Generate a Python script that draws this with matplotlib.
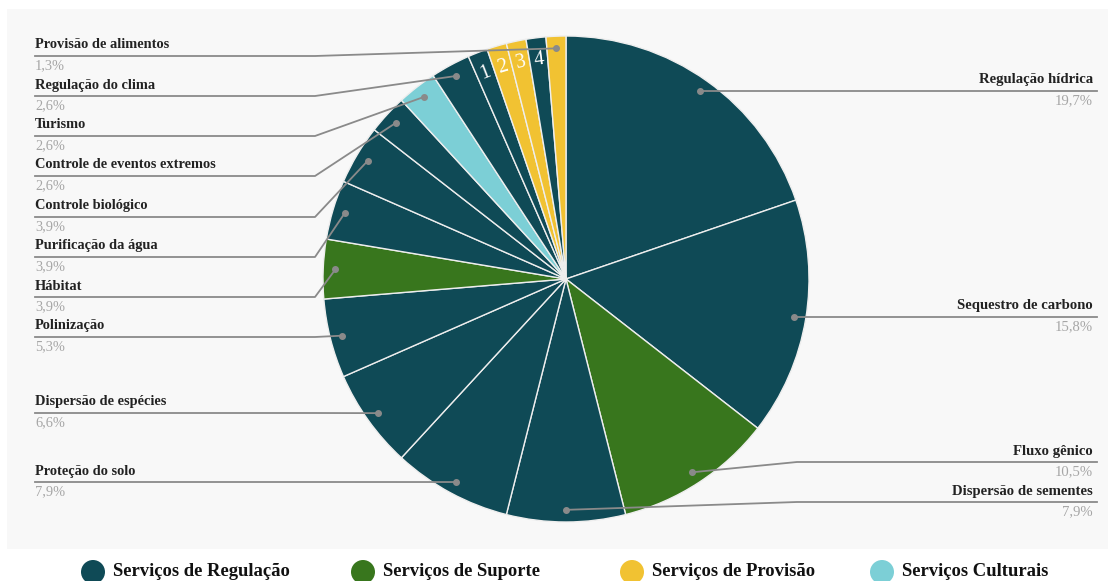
import matplotlib.pyplot as plt
from matplotlib.patches import Rectangle, Circle
import numpy as np

# dados (número de ocorrências por serviço)
servicos = ['Regulação hídrica', 'Sequestro de carbono', 'Fluxo gênico', 'Dispersão de sementes',
            'Proteção do solo', 'Dispersão de espécies', 'Polinização', 'Hábitat',
            'Purificação da água', 'Controle biológico', 'Controle de eventos extremos', 'Turismo',
            'Regulação do clima', '1', '2', '3', '4', 'Provisão de alimentos']
contagens = [15, 12, 8, 6, 6, 5, 4, 3, 3, 3, 2, 2, 2, 1, 1, 1, 1, 1]
percentuais = ['19,7%', '15,8%', '10,5%', '7,9%', '7,9%', '6,6%', '5,3%', '3,9%', '3,9%', '3,9%',
               '2,6%', '2,6%', '2,6%', '1,3%', '1,3%', '1,3%', '1,3%', '1,3%']
categorias = ['Regulação', 'Regulação', 'Suporte', 'Regulação', 'Regulação', 'Regulação', 'Regulação',
              'Suporte', 'Regulação', 'Regulação', 'Regulação', 'Cultural', 'Regulação',
              'Regulação', 'Provisão', 'Provisão', 'Regulação', 'Provisão']
legenda = ['Serviços de Regulação', 'Serviços de Suporte', 'Serviços de Provisão', 'Serviços Culturais']

cores = {'Regulação': '#0f4a56', 'Suporte': '#38761d', 'Provisão': '#f1c232', 'Cultural': '#7ccfd6'}

W, H = 1108, 581
def Y(py):
    return H - py

fig = plt.figure(figsize=(W / 100, H / 100), dpi=100)
ax = fig.add_axes([0, 0, 1, 1])
ax.set_xlim(0, W)
ax.set_ylim(0, H)
ax.axis('off')

# fundo do painel
ax.add_patch(Rectangle((7, Y(549)), W - 7, 540, facecolor='#f8f8f8', edgecolor='none', zorder=0))

cx, cy, R = 566, Y(279), 243
wedges, _ = ax.pie(contagens, colors=[cores[c] for c in categorias], startangle=90,
                   counterclock=False, center=(cx, cy), radius=R,
                   wedgeprops=dict(edgecolor='#eeeeee', linewidth=1))
ax.set_xlim(0, W)
ax.set_ylim(0, H)
ax.set_aspect('equal')

serif = 'Liberation Serif'
linha = '#8a8a8a'

# posição dos rótulos (y em pixels, do topo) - lado esquerdo e direito
rot_esq = {'Provisão de alimentos': 45, 'Regulação do clima': 85, 'Turismo': 125,
           'Controle de eventos extremos': 165, 'Controle biológico': 206,
           'Purificação da água': 246, 'Hábitat': 286, 'Polinização': 326,
           'Dispersão de espécies': 402, 'Proteção do solo': 471}
rot_dir = {'Regulação hídrica': 80, 'Sequestro de carbono': 306, 'Fluxo gênico': 451,
           'Dispersão de sementes': 491}

for w, nome, pct in zip(wedges, servicos, percentuais):
    ang = np.deg2rad((w.theta1 + w.theta2) / 2)
    px = cx + 0.95 * R * np.cos(ang)
    py = cy + 0.95 * R * np.sin(ang)
    if nome in ['1', '2', '3', '4']:
        tx = cx + 0.91 * R * np.cos(ang)
        ty = cy + 0.91 * R * np.sin(ang)
        ax.text(tx, ty, nome, color='white', fontsize=14.5, family=serif, ha='center', va='center',
                rotation=np.rad2deg(ang) - 90)
        continue
    if nome in rot_esq:
        yt = rot_esq[nome]
        yl = Y(yt + 11)
        cot = 315 if px > 330 else px - 25
        ax.plot([35, cot, px], [yl, yl, py], color=linha, lw=1.3, zorder=3)
        ax.text(35, Y(yt), nome, fontsize=10.4, family=serif, fontweight='bold', color='#222222',
                ha='left', va='center')
        ax.text(35, Y(yt + 21), pct, fontsize=10.4, family=serif, color='#a6a6a6', ha='left', va='center')
    else:
        yt = rot_dir[nome]
        yl = Y(yt + 11)
        if abs(yl - py) < 3:
            ax.plot([px, 1097], [yl, yl], color=linha, lw=1.3, zorder=3)
        else:
            ax.plot([px, 797, 1097], [py, yl, yl], color=linha, lw=1.3, zorder=3)
        ax.text(1093, Y(yt), nome, fontsize=10.6, family=serif, fontweight='bold', color='#222222',
                ha='right', va='center')
        ax.text(1093, Y(yt + 21), pct, fontsize=10.6, family=serif, color='#a6a6a6', ha='right', va='center')
    ax.plot(px, py, 'o', color=linha, ms=4, zorder=4)

# legenda
for x0, txt, cat in zip([93, 363, 632, 882], legenda, ['Regulação', 'Suporte', 'Provisão', 'Cultural']):
    ax.add_patch(Circle((x0, Y(572)), 12, facecolor=cores[cat], edgecolor='none'))
    ax.text(x0 + 20, Y(572), txt, fontsize=13.4, family=serif, fontweight='bold', color='#111111',
            ha='left', va='center')

fig.savefig('out.png', dpi=100, facecolor='white')
